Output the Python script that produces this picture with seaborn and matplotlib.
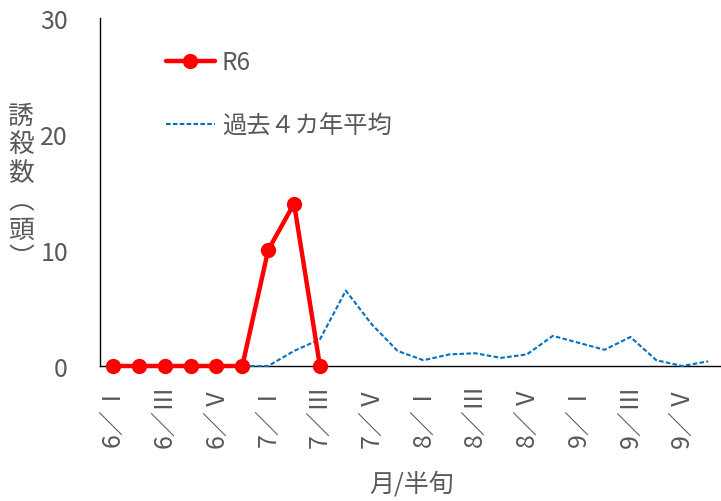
import matplotlib
matplotlib.use("Agg")
import matplotlib.pyplot as plt
import numpy as np
import pandas as pd
import seaborn as sns

# Half-month periods (半旬) from June to September
months = ["6", "6", "6", "6", "6", "6",
          "7", "7", "7", "7", "7", "7",
          "8", "8", "8", "8", "8", "8",
          "9", "9", "9", "9", "9", "9"]
periods = ["Ⅰ", "Ⅱ", "Ⅲ", "Ⅳ", "Ⅴ", "Ⅵ"] * 4

# Trap counts for this season (observed up to 7/Ⅲ)
r6_counts = [0, 0, 0, 0, 0, 0, 10, 14, 0]

# Average over the previous four years
avg4_counts = [0, 0, 0, 0, 0, 0, 0, 1.3, 2.3, 6.5, 3.6, 1.3,
               0.5, 1.0, 1.1, 0.7, 1.0, 2.6, 2.0, 1.4, 2.5, 0.5, 0.0, 0.4]

y_ticks = [0, 10, 20, 30]

sns.set_theme(style="white")
plt.rcParams["font.family"] = ["Noto Sans CJK JP", "DejaVu Sans"]

TEXT = "#595959"
RED = "#FF0000"
BLUE = "#0070C0"

fig = plt.figure(figsize=(7.21, 5.02), dpi=100)
fig.patch.set_facecolor("white")
ax = fig.add_axes([0.1387, 0.2689, 0.8613, 0.6932])

x_all = np.arange(len(periods))
df_r6 = pd.DataFrame({"x": x_all[:len(r6_counts)], "y": r6_counts})
df_avg = pd.DataFrame({"x": x_all, "y": avg4_counts})

sns.lineplot(data=df_r6, x="x", y="y", ax=ax, color=RED, linewidth=3.2,
             marker="o", markersize=11, markeredgewidth=0, label="R6",
             clip_on=False, zorder=4)
sns.lineplot(data=df_avg, x="x", y="y", ax=ax, color=BLUE, linewidth=1.5,
             dashes=False, label="過去４カ年平均", clip_on=False, zorder=3)
ax.lines[-1].set_dashes((2.2, 1.1))

ax.set_xlim(-0.5, len(periods) - 0.5)
ax.set_ylim(0, 30)
ax.set_yticks(y_ticks)
ax.set_yticklabels([str(v) for v in y_ticks])

# Tick marks at period boundaries, labels every other period
ax.set_xticks(np.arange(0.5, len(periods) - 0.5, 1.0))
ax.set_xticklabels([])
label_pos = x_all[::2]
ax.set_xticks(label_pos, minor=True)
ax.set_xticklabels([f"{m}／{p}" for m, p in zip(months[::2], periods[::2])],
                   minor=True, rotation=90, fontsize=18, color=TEXT)

ax.tick_params(axis="x", which="major", direction="in", length=5.5,
               width=1, color="#333333")
ax.tick_params(axis="x", which="minor", length=0, pad=12)
ax.tick_params(axis="y", direction="in", length=5.5, width=1,
               color="#000000", labelsize=18, labelcolor=TEXT, pad=23)

for side in ["top", "right"]:
    ax.spines[side].set_visible(False)
for side in ["left", "bottom"]:
    ax.spines[side].set_color("#000000")
    ax.spines[side].set_linewidth(1)

ax.set_xlabel("月/半旬", fontsize=18, color=TEXT)
ax.xaxis.set_label_coords((412 - 100) / 621, (367 - 484) / 348)
ax.xaxis.label.set_va("center")

ax.set_ylabel("誘\n殺\n数\n︵\n頭\n︶", rotation=0, fontsize=18.5,
              color=TEXT, ha="center", va="center", linespacing=1.12)
ax.yaxis.set_label_coords((21 - 100) / 621, (367 - 188) / 348)

leg = ax.legend(loc="upper left", bbox_to_anchor=((166 - 100) / 621, (367 - 50) / 348),
                frameon=False, fontsize=17.5, handlelength=2.0,
                handletextpad=0.3, labelspacing=1.55, borderpad=0,
                borderaxespad=0)
for t in leg.get_texts():
    t.set_color(TEXT)

fig.savefig("out.png", dpi=100, facecolor="white")
